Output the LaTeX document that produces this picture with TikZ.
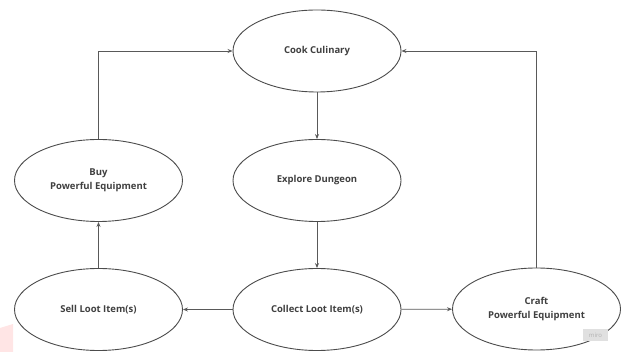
\documentclass[tikz,border=0pt]{standalone}
\usepackage{fontspec}
\setmainfont{Open Sans}
\usetikzlibrary{shapes.geometric,arrows.meta}

\tikzset{
	activity/.style={ellipse,draw=black!70,line width=0.9pt,fill=white,
		minimum width=168pt,minimum height=82pt,inner sep=0pt,
		align=center,font=\fontsize{9.5}{14}\selectfont\bfseries,text=black!75},
	flow/.style={draw=black!65,line width=0.8pt,-{Stealth[length=5pt,width=4pt]}}
}

\begin{document}
\begin{tikzpicture}[x=1pt,y=-1pt]
		% Fix the page to the reference size
		\useasboundingbox (0,0) rectangle (621,352);
		
		% Define main coordinates
		\coordinate (C1) at (98.5,0);
		\coordinate (C2) at (317,0);
		\coordinate (C3) at (536.5,0);
		
		% Draw the activities
		\node[activity] (cook) at (317,51) {Cook Culinary};
		\node[activity] (buy) at (98.5,180.5) {Buy\\Powerful Equipment};
		\node[activity] (explore) at (317,180.5) {Explore Dungeon};
		\node[activity] (sell) at (98.5,309.5) {Sell Loot Item(s)};
		\node[activity] (collect) at (317,309.5) {Collect Loot Item(s)};
		\node[activity] (craft) at (536.5,309) {Craft\\Powerful Equipment};
		
		% Draw the main loop
		\draw[flow] (cook) -- (explore);
		\draw[flow] (explore) -- (collect);
		\draw[flow] (collect) -- (sell);
		\draw[flow] (collect) -- (craft);
		\draw[flow] (sell) -- (buy);
		
		% Draw the way back to cooking
		\draw[flow] (buy.north) |- (cook.west);
		\draw[flow] (craft.north) |- (cook.east);
		
		% Watermark and smudge
		\fill[pink!40] (0,328) -- (13,324) -- (13,352) -- (0,352) -- cycle;
		\node[fill=black!12,minimum width=25pt,minimum height=12pt,inner sep=0pt,
			font=\fontsize{6}{6}\selectfont,text=black!30] (miro) at (595.5,335.5) {miro};
		
		\end{tikzpicture}
\end{document}
